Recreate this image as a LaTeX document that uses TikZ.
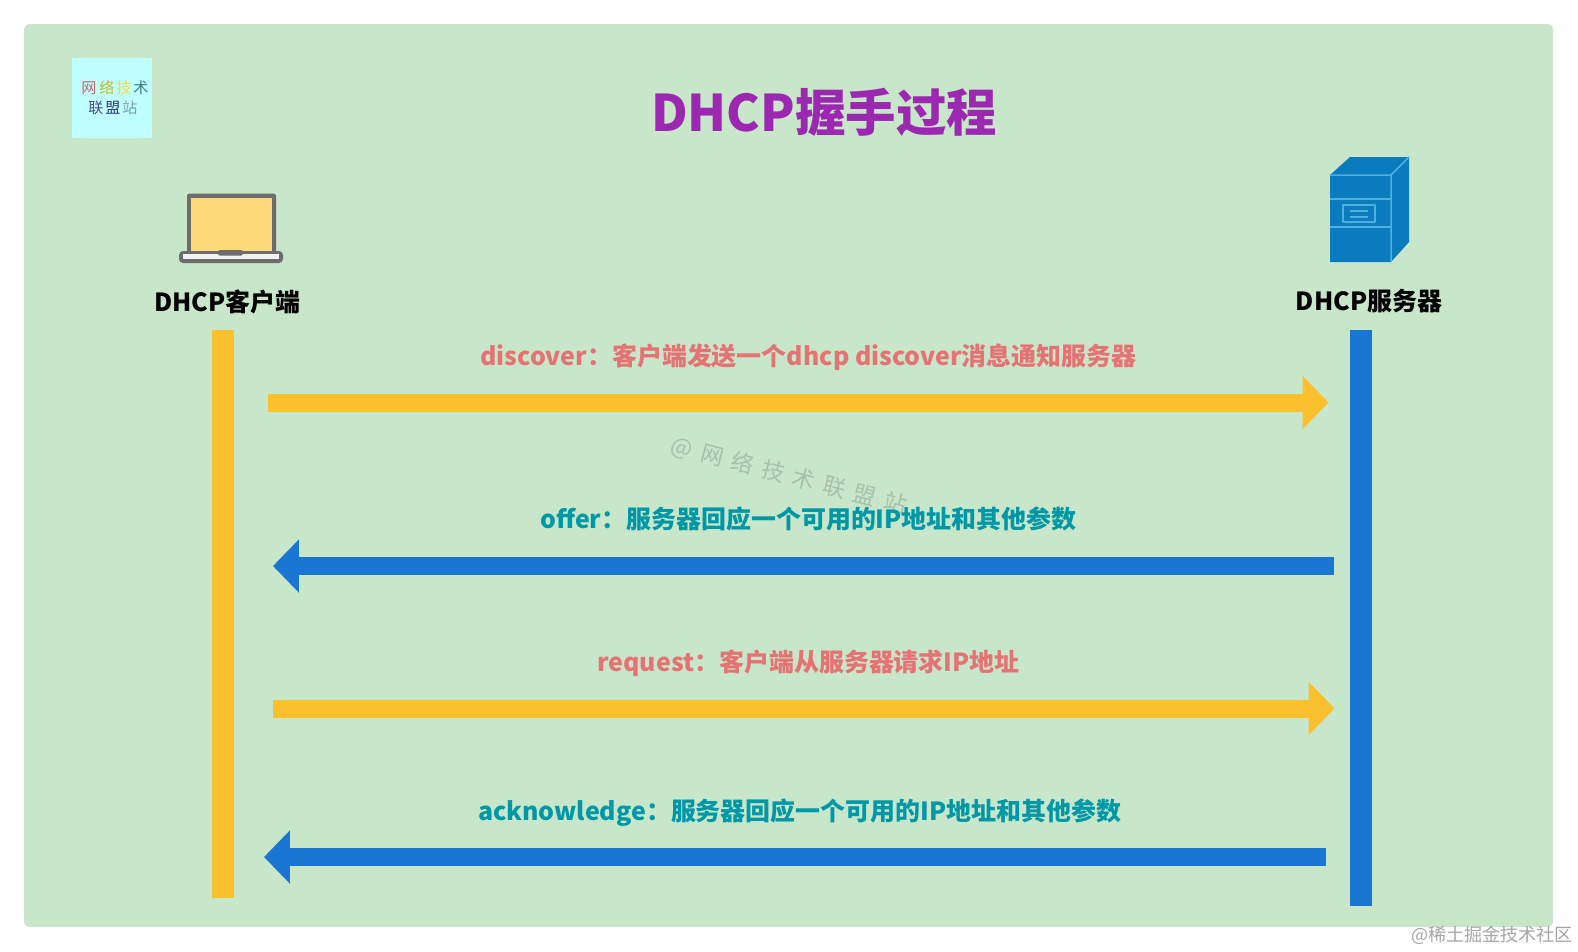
\documentclass[tikz,border=0pt]{standalone}
\usepackage{fontspec}
\usetikzlibrary{arrows.meta}
\setmainfont{Noto Sans CJK SC}
\newfontfamily\markfont[WordSpace=1.7]{Noto Sans CJK SC}
\definecolor{panelgreen}{HTML}{C8E6C9}
\definecolor{titlepurple}{HTML}{9C27B0}
\definecolor{barorange}{HTML}{FBC02D}
\definecolor{barblue}{HTML}{1976D2}
\definecolor{labelred}{HTML}{E57373}
\definecolor{labelteal}{HTML}{0097A7}
\definecolor{servermain}{HTML}{0A7BBD}
\definecolor{serverline}{HTML}{4FB0DE}
\definecolor{laptopgray}{HTML}{6D6D6D}
\definecolor{laptopface}{HTML}{FFD97A}
\definecolor{logoback}{HTML}{BFFFFF}
\definecolor{markgray}{HTML}{A9C0AD}
\tikzset{
  txt/.style={inner sep=0pt,font=\fontsize{14.2}{16}\selectfont\bfseries},
  msgright/.style={line width=.36cm,barorange,-{Triangle[length=.52cm,width=1.04cm]}},
  msgleft/.style={line width=.36cm,barblue,-{Triangle[length=.52cm,width=1.04cm]}},
  srv/.style={serverline,line width=.03cm,line join=round}
}
\begin{document}
\begin{tikzpicture}[x=.02cm,y=-.02cm]
\useasboundingbox (0,0) rectangle (1578,951);
%Background and logo
\fill[white] (0,0) rectangle (1578,951);
\fill[panelgreen,rounded corners=.12cm] (24,24) rectangle (1553,927);
\fill[logoback] (72,58) rectangle (152,138);
\begin{scope}[every node/.style={inner sep=0pt,font=\fontsize{8.6}{10}\selectfont}]
\node[red!50!gray!80] (logoa) at (89,88) {网};
\node[orange!70!green!80] (logob) at (107,88) {络};
\node[yellow!70!orange!80] (logoc) at (124,88) {技};
\node[teal!60!gray] (logod) at (141,88) {术};
\node[black!65!blue!70] (logoe) at (96,108) {联};
\node[blue!40!black!80] (logof) at (113,108) {盟};
\node[cyan!30!gray] (logog) at (130,108) {站};
\end{scope}
\node[inner sep=0pt,titlepurple,font=\fontsize{28.7}{32}\selectfont\bfseries] (title) at (824,112) {DHCP握手过程};
%Laptop
\fill[laptopgray,rounded corners=.05cm] (187,193.5) rectangle (276,254);
\fill[laptopface] (191,198) rectangle (272,251);
\fill[laptopgray,rounded corners=.08cm] (179,251) rectangle (283,263);
\fill[white!90!gray] (183,254) rectangle (279,259);
\fill[laptopgray,rounded corners=.04cm] (218,250) rectangle (243,255.5);
%Server
\fill[servermain] (1330,175)--(1350,157)--(1409,157)--(1409,242)--(1391,262)--(1330,262)--cycle;
\draw[srv] (1330,175)--(1391,175)--(1391,262) (1391,175)--(1409,157);
\draw[srv] (1330,199)--(1391,199) (1330,227)--(1391,227);
\draw[srv] (1343,205) rectangle (1375,222);
\draw[srv] (1350,211)--(1368,211) (1350,217)--(1368,217);
\node[txt] (client) at (227.5,301.5) {DHCP客户端};
\node[txt] (server) at (1369,301.5) {DHCP服务器};
%Two time lines
\fill[barorange] (212,330) rectangle (234,898);
\fill[barblue] (1350,330) rectangle (1372,906);
%Watermark below the messages
\node[inner sep=0pt,rotate=-14.7,markgray,font=\fontsize{13}{15}\markfont] (mark) at (789,476) {@ 网 络 技 术 联 盟 站};
%Messages
\coordinate (da) at (268,402.5);  \coordinate (db) at (1328.5,402.5);
\coordinate (oa) at (1334,566);   \coordinate (ob) at (273,566);
\coordinate (ra) at (273,708.5);  \coordinate (rb) at (1334.5,708.5);
\coordinate (ka) at (1326,857);   \coordinate (kb) at (264,857);
\draw[msgright] (da)--(db);
\draw[msgleft] (oa)--(ob);
\draw[msgright] (ra)--(rb);
\draw[msgleft] (ka)--(kb);
\node[txt,labelred] (discover) at (808.5,357) {discover：客户端发送一个dhcp discover消息通知服务器};
\node[txt,labelteal] (offer) at (808.5,518.5) {offer：服务器回应一个可用的IP地址和其他参数};
\node[txt,labelred] (request) at (808.5,663) {request：客户端从服务器请求IP地址};
\node[txt,labelteal] (ack) at (799.5,812.5) {acknowledge：服务器回应一个可用的IP地址和其他参数};
%Site mark
\node[inner sep=0pt,black!35,font=\fontsize{10.3}{12}\selectfont] (site) at (1492,935) {@稀土掘金技术社区};
\end{tikzpicture}
\end{document}
